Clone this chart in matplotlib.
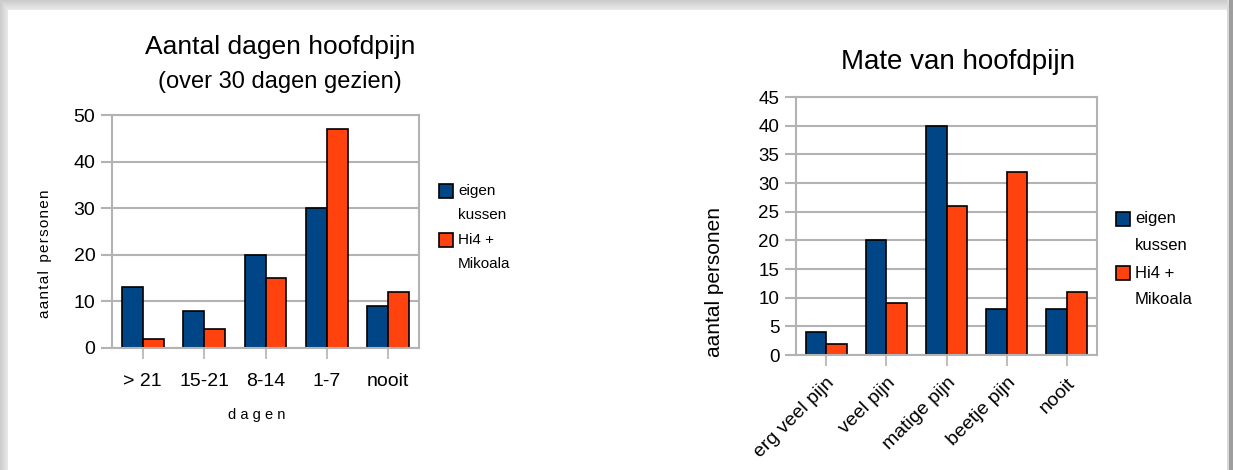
import numpy as np
import matplotlib
matplotlib.use('Agg')
import matplotlib.pyplot as plt
from matplotlib.patches import Rectangle

plt.rcParams['font.family'] = ['Liberation Sans', 'DejaVu Sans']

# data
dagen_cats = ['> 21', '15-21', '8-14', '1-7', 'nooit']
dagen_eigen = [13, 8, 20, 30, 9]
dagen_hi4 = [2, 4, 15, 47, 12]

mate_cats = ['erg veel pijn', 'veel pijn', 'matige pijn', 'beetje pijn', 'nooit']
mate_eigen = [4, 20, 40, 8, 8]
mate_hi4 = [2, 9, 26, 32, 11]

series_names = [('eigen', 'kussen'), ('Hi4 +', 'Mikoala')]
blue = '#004586'
orange = '#ff420e'
grid_col = '#b3b3b3'

W, H = 1233, 470
fig = plt.figure(figsize=(W / 100, H / 100), dpi=100)

# page background with a soft shadow along the edges
bg = np.ones((H, W))
for i in range(10):
    bg[i, :] = 0.80 + 0.012 * i
for j in range(8):
    bg[:, j] = np.minimum(bg[:, j], 0.80 + 0.015 * j)
bg[:, 1229:] = 0.62
bg[:, 1227:1229] = 0.85
bax = fig.add_axes([0, 0, 1, 1])
bax.imshow(bg, cmap='gray', vmin=0, vmax=1, aspect='auto', interpolation='bilinear')
bax.axis('off')


def px_axes(x0, y0, x1, y1):
    return fig.add_axes([x0 / W, 1 - y1 / H, (x1 - x0) / W, (y1 - y0) / H])


def fx(px):
    return px / W


def fy(py):
    return 1 - py / H


def style(ax, ymax, step):
    ax.set_ylim(0, ymax)
    ax.set_xlim(-0.5, 4.5)
    ax.set_yticks(np.arange(0, ymax + 1, step))
    ax.yaxis.grid(True, color=grid_col, lw=1.5)
    ax.set_axisbelow(True)
    for s in ax.spines.values():
        s.set_color(grid_col)
        s.set_linewidth(1.5)
    ax.tick_params(axis='y', length=8, width=1.5, color=grid_col, pad=4)
    ax.tick_params(axis='x', length=8, width=1.2, color=grid_col)


def legend(x, ys, size, fs, gap):
    # ys: (first line of series 1, first line of series 2), line gap in px
    for (l1, l2), y, c in zip(series_names, ys, [blue, orange]):
        fig.patches.append(Rectangle((fx(x), fy(y + size / 2)), size / W, size / H,
                                     transform=fig.transFigure, facecolor=c,
                                     edgecolor='black', lw=1.2))
        fig.text(fx(x + size + 5), fy(y), l1, fontsize=fs, va='center', ha='left')
        fig.text(fx(x + size + 5), fy(y + gap), l2, fontsize=fs, va='center', ha='left')


bw = 0.34
x = np.arange(len(dagen_cats))

# left chart
ax1 = px_axes(112, 115, 419, 348)
ax1.bar(x - bw / 2, dagen_eigen, bw, color=blue, edgecolor='black', lw=1.2)
ax1.bar(x + bw / 2, dagen_hi4, bw, color=orange, edgecolor='black', lw=1.2)
style(ax1, 50, 10)
ax1.set_xticks(x)
ax1.set_xticklabels(dagen_cats, fontsize=14)
ax1.tick_params(axis='x', pad=10)
ax1.tick_params(axis='y', labelsize=14)
ax1.set_xlabel('d a g e n', fontsize=10.5)
ax1.xaxis.set_label_coords(0.47, (348 - 415) / 233, transform=ax1.transAxes)
ax1.xaxis.label.set_va('center')
ax1.set_ylabel('a\u200aa\u200an\u200at\u200aa\u200al  p\u200ae\u200ar\u200as\u200ao\u200an\u200ae\u200an', fontsize=11)
ax1.yaxis.set_label_coords((45 - 112) / 307, (348 - 254) / 233)
ax1.yaxis.label.set_va('center')
fig.text(fx(280), fy(47), 'Aantal dagen hoofdpijn', fontsize=19, ha='center', va='center')
fig.text(fx(280), fy(82), '(over 30 dagen gezien)', fontsize=17, ha='center', va='center')
legend(439, (191, 240), 14, 11, 24)

# right chart
ax2 = px_axes(796, 97, 1097, 355)
ax2.bar(x - bw / 2, mate_eigen, bw, color=blue, edgecolor='black', lw=1.2)
ax2.bar(x + bw / 2, mate_hi4, bw, color=orange, edgecolor='black', lw=1.2)
style(ax2, 45, 5)
ax2.set_xticks(x)
ax2.set_xticklabels(mate_cats, fontsize=14, rotation=45, ha='right', rotation_mode='anchor')
ax2.tick_params(axis='x', pad=6)
ax2.tick_params(axis='y', labelsize=13.5)
ax2.set_ylabel('aantal personen', fontsize=15)
ax2.yaxis.set_label_coords((715 - 796) / 301, (355 - 282) / 258)
ax2.yaxis.label.set_va('center')
fig.text(fx(958), fy(62), 'Mate van hoofdpijn', fontsize=20, ha='center', va='center')
legend(1116, (219, 273), 14, 12, 27)

fig.savefig('out.png', dpi=100)
